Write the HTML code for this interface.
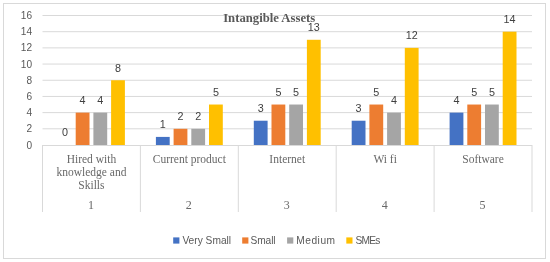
<!DOCTYPE html>
<html><head><meta charset="utf-8"><title>Intangible Assets</title>
<style>html,body{margin:0;padding:0;background:#fff;}body{width:550px;height:262px;overflow:hidden;}svg{display:block;will-change:transform;}
.sans{font-family:"Liberation Sans",sans-serif;}.serif{font-family:"Liberation Serif",serif;}</style></head><body>
<svg width="550" height="262" viewBox="0 0 550 262">
<rect x="0" y="0" width="550" height="262" fill="#ffffff"/>
<rect x="3.50" y="3.50" width="542.00" height="255.00" fill="#ffffff" stroke="#D9D9D9" stroke-width="1"/>
<line x1="42.50" y1="128.81" x2="532.00" y2="128.81" stroke="#D9D9D9" stroke-width="1"/>
<line x1="42.50" y1="112.62" x2="532.00" y2="112.62" stroke="#D9D9D9" stroke-width="1"/>
<line x1="42.50" y1="96.44" x2="532.00" y2="96.44" stroke="#D9D9D9" stroke-width="1"/>
<line x1="42.50" y1="80.25" x2="532.00" y2="80.25" stroke="#D9D9D9" stroke-width="1"/>
<line x1="42.50" y1="64.06" x2="532.00" y2="64.06" stroke="#D9D9D9" stroke-width="1"/>
<line x1="42.50" y1="47.88" x2="532.00" y2="47.88" stroke="#D9D9D9" stroke-width="1"/>
<line x1="42.50" y1="31.69" x2="532.00" y2="31.69" stroke="#D9D9D9" stroke-width="1"/>
<line x1="42.50" y1="15.50" x2="532.00" y2="15.50" stroke="#D9D9D9" stroke-width="1"/>
<text class="sans" x="32.10" y="148.50" font-size="10.10" fill="#595959" text-anchor="end">0</text>
<text class="sans" x="32.10" y="132.31" font-size="10.10" fill="#595959" text-anchor="end">2</text>
<text class="sans" x="32.10" y="116.12" font-size="10.10" fill="#595959" text-anchor="end">4</text>
<text class="sans" x="32.10" y="99.94" font-size="10.10" fill="#595959" text-anchor="end">6</text>
<text class="sans" x="32.10" y="83.75" font-size="10.10" fill="#595959" text-anchor="end">8</text>
<text class="sans" x="32.10" y="67.56" font-size="10.10" fill="#595959" text-anchor="end">10</text>
<text class="sans" x="32.10" y="51.38" font-size="10.10" fill="#595959" text-anchor="end">12</text>
<text class="sans" x="32.10" y="35.19" font-size="10.10" fill="#595959" text-anchor="end">14</text>
<text class="sans" x="32.10" y="19.00" font-size="10.10" fill="#595959" text-anchor="end">16</text>
<text class="serif" x="269.20" y="21.60" font-size="12.70" font-weight="bold" fill="#595959" text-anchor="middle">Intangible Assets</text>
<text class="sans" transform="translate(64.90,136.30) scale(0.93,1)" font-size="11.60" fill="#404040" text-anchor="middle">0</text>
<rect x="75.70" y="112.62" width="13.80" height="32.38" fill="#ED7D31"/>
<text class="sans" transform="translate(82.60,103.92) scale(0.93,1)" font-size="11.60" fill="#404040" text-anchor="middle">4</text>
<rect x="93.40" y="112.62" width="13.80" height="32.38" fill="#A5A5A5"/>
<text class="sans" transform="translate(100.30,103.92) scale(0.93,1)" font-size="11.60" fill="#404040" text-anchor="middle">4</text>
<rect x="111.10" y="80.25" width="13.80" height="64.75" fill="#FFC000"/>
<text class="sans" transform="translate(118.00,71.55) scale(0.93,1)" font-size="11.60" fill="#404040" text-anchor="middle">8</text>
<rect x="155.90" y="136.91" width="13.80" height="8.09" fill="#4472C4"/>
<text class="sans" transform="translate(162.80,128.21) scale(0.93,1)" font-size="11.60" fill="#404040" text-anchor="middle">1</text>
<rect x="173.60" y="128.81" width="13.80" height="16.19" fill="#ED7D31"/>
<text class="sans" transform="translate(180.50,120.11) scale(0.93,1)" font-size="11.60" fill="#404040" text-anchor="middle">2</text>
<rect x="191.30" y="128.81" width="13.80" height="16.19" fill="#A5A5A5"/>
<text class="sans" transform="translate(198.20,120.11) scale(0.93,1)" font-size="11.60" fill="#404040" text-anchor="middle">2</text>
<rect x="209.00" y="104.53" width="13.80" height="40.47" fill="#FFC000"/>
<text class="sans" transform="translate(215.90,95.83) scale(0.93,1)" font-size="11.60" fill="#404040" text-anchor="middle">5</text>
<rect x="253.80" y="120.72" width="13.80" height="24.28" fill="#4472C4"/>
<text class="sans" transform="translate(260.70,112.02) scale(0.93,1)" font-size="11.60" fill="#404040" text-anchor="middle">3</text>
<rect x="271.50" y="104.53" width="13.80" height="40.47" fill="#ED7D31"/>
<text class="sans" transform="translate(278.40,95.83) scale(0.93,1)" font-size="11.60" fill="#404040" text-anchor="middle">5</text>
<rect x="289.20" y="104.53" width="13.80" height="40.47" fill="#A5A5A5"/>
<text class="sans" transform="translate(296.10,95.83) scale(0.93,1)" font-size="11.60" fill="#404040" text-anchor="middle">5</text>
<rect x="306.90" y="39.78" width="13.80" height="105.22" fill="#FFC000"/>
<text class="sans" transform="translate(313.80,31.08) scale(0.93,1)" font-size="11.60" fill="#404040" text-anchor="middle">13</text>
<rect x="351.70" y="120.72" width="13.80" height="24.28" fill="#4472C4"/>
<text class="sans" transform="translate(358.60,112.02) scale(0.93,1)" font-size="11.60" fill="#404040" text-anchor="middle">3</text>
<rect x="369.40" y="104.53" width="13.80" height="40.47" fill="#ED7D31"/>
<text class="sans" transform="translate(376.30,95.83) scale(0.93,1)" font-size="11.60" fill="#404040" text-anchor="middle">5</text>
<rect x="387.10" y="112.62" width="13.80" height="32.38" fill="#A5A5A5"/>
<text class="sans" transform="translate(394.00,103.92) scale(0.93,1)" font-size="11.60" fill="#404040" text-anchor="middle">4</text>
<rect x="404.80" y="47.88" width="13.80" height="97.12" fill="#FFC000"/>
<text class="sans" transform="translate(411.70,39.17) scale(0.93,1)" font-size="11.60" fill="#404040" text-anchor="middle">12</text>
<rect x="449.60" y="112.62" width="13.80" height="32.38" fill="#4472C4"/>
<text class="sans" transform="translate(456.50,103.92) scale(0.93,1)" font-size="11.60" fill="#404040" text-anchor="middle">4</text>
<rect x="467.30" y="104.53" width="13.80" height="40.47" fill="#ED7D31"/>
<text class="sans" transform="translate(474.20,95.83) scale(0.93,1)" font-size="11.60" fill="#404040" text-anchor="middle">5</text>
<rect x="485.00" y="104.53" width="13.80" height="40.47" fill="#A5A5A5"/>
<text class="sans" transform="translate(491.90,95.83) scale(0.93,1)" font-size="11.60" fill="#404040" text-anchor="middle">5</text>
<rect x="502.70" y="31.69" width="13.80" height="113.31" fill="#FFC000"/>
<text class="sans" transform="translate(509.60,22.99) scale(0.93,1)" font-size="11.60" fill="#404040" text-anchor="middle">14</text>
<line x1="42.50" y1="145.50" x2="532.00" y2="145.50" stroke="#D9D9D9" stroke-width="1"/>
<line x1="42.50" y1="145.00" x2="42.50" y2="212.00" stroke="#D9D9D9" stroke-width="1"/>
<line x1="140.40" y1="145.00" x2="140.40" y2="212.00" stroke="#D9D9D9" stroke-width="1"/>
<line x1="238.30" y1="145.00" x2="238.30" y2="212.00" stroke="#D9D9D9" stroke-width="1"/>
<line x1="336.20" y1="145.00" x2="336.20" y2="212.00" stroke="#D9D9D9" stroke-width="1"/>
<line x1="434.10" y1="145.00" x2="434.10" y2="212.00" stroke="#D9D9D9" stroke-width="1"/>
<line x1="532.00" y1="145.00" x2="532.00" y2="212.00" stroke="#D9D9D9" stroke-width="1"/>
<text class="serif" x="91.45" y="162.80" font-size="11.50" fill="#686868" text-anchor="middle">Hired with</text>
<text class="serif" x="91.45" y="175.80" font-size="11.50" fill="#686868" text-anchor="middle">knowledge and</text>
<text class="serif" x="91.45" y="188.80" font-size="11.50" fill="#686868" text-anchor="middle">Skills</text>
<text class="serif" x="90.95" y="208.80" font-size="12.00" fill="#686868" text-anchor="middle">1</text>
<text class="serif" x="189.35" y="162.80" font-size="11.50" fill="#686868" text-anchor="middle">Current product</text>
<text class="serif" x="188.85" y="208.80" font-size="12.00" fill="#686868" text-anchor="middle">2</text>
<text class="serif" x="287.25" y="162.80" font-size="11.50" fill="#686868" text-anchor="middle">Internet</text>
<text class="serif" x="286.75" y="208.80" font-size="12.00" fill="#686868" text-anchor="middle">3</text>
<text class="serif" x="385.15" y="162.80" font-size="11.50" fill="#686868" text-anchor="middle">Wi fi</text>
<text class="serif" x="384.65" y="208.80" font-size="12.00" fill="#686868" text-anchor="middle">4</text>
<text class="serif" x="483.05" y="162.80" font-size="11.50" fill="#686868" text-anchor="middle">Software</text>
<text class="serif" x="482.55" y="208.80" font-size="12.00" fill="#686868" text-anchor="middle">5</text>
<rect x="173.20" y="237.40" width="6.2" height="6.2" fill="#4472C4"/>
<text class="sans" x="182.40" y="243.80" font-size="10.20" letter-spacing="0.00" fill="#595959">Very Small</text>
<rect x="242.20" y="237.40" width="6.2" height="6.2" fill="#ED7D31"/>
<text class="sans" x="250.50" y="243.80" font-size="10.20" letter-spacing="-0.10" fill="#595959">Small</text>
<rect x="287.10" y="237.40" width="6.2" height="6.2" fill="#A5A5A5"/>
<text class="sans" x="296.30" y="243.80" font-size="10.20" letter-spacing="0.50" fill="#595959">Medium</text>
<rect x="346.30" y="237.40" width="6.2" height="6.2" fill="#FFC000"/>
<text class="sans" x="355.50" y="243.80" font-size="10.20" letter-spacing="-0.75" fill="#595959">SMEs</text>
</svg></body></html>
